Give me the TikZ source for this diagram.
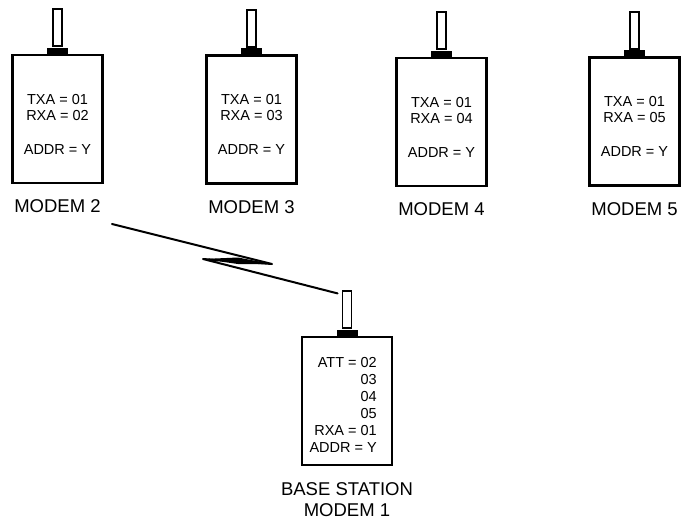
\documentclass[tikz,border=0pt]{standalone}
\usepackage{fontspec}
\setmainfont{Liberation Sans}
\begin{document}
\begin{tikzpicture}[x=1pt,y=-1pt,
  modembox/.style={draw, line width=2.6pt, minimum width=90pt, minimum height=128pt, inner sep=0pt},
  antennarod/.style={draw, line width=1.9pt, minimum width=9pt, minimum height=37pt, inner sep=0pt, anchor=south},
  antennabase/.style={fill=black, minimum width=21pt, minimum height=6pt, inner sep=0pt, anchor=south},
  boxtext/.style={font=\fontsize{14.5}{16}\selectfont, align=center, inner sep=0pt},
  basetext/.style={font=\fontsize{14.5}{17}\selectfont, align=right, inner sep=0pt, anchor=east},
  modemlabel/.style={font=\fontsize{18.5}{21}\selectfont, align=center, inner sep=0pt},
  bolt/.style={line width=2pt, line join=round, line cap=round}
]
\useasboundingbox (0,0) rectangle (684,523);

% top modems
\foreach \n/\x/\y/\rx in {2/57.5/119/02, 3/251.5/119.5/03, 4/441.5/122/04, 5/634.5/121.5/05}{
  \node[modembox] (m\n) at (\x,\y) {};
  \node[antennabase] (p\n) at (m\n.north) {};
  \node[antennarod] (a\n) at (p\n.north) {};
  \node[boxtext] (t\n) at (\x,\y+5) {TXA = 01\\RXA = \rx\\[18pt]ADDR = Y};
  \node[modemlabel] (l\n) at ([yshift=-22pt]m\n.south) {MODEM \n};
}

% base station
\node[modembox] (m1) at (347,401) {};
\node[antennabase] (p1) at (m1.north) {};
\node[antennarod] (a1) at (p1.north) {};
\node[basetext] (t1) at (377,404.5) {ATT = 02\\03\\04\\05\\RXA = 01\\ADDR = Y};
\node[modemlabel] (l1) at (347,499.5) {BASE STATION\\MODEM 1};

% radio link (lightning)
\coordinate (zs) at (112,224);
\coordinate (zb) at (272,264);
\coordinate (zc) at (203,259);
\coordinate (ze) at ([xshift=-4pt,yshift=-3pt]a1.north west);
\draw[bolt] (zs) -- (zb) -- (zc) -- (ze);
\fill (zb) -- (238,257.5) -- (zc) -- (238,264) -- cycle;
\end{tikzpicture}
\end{document}
